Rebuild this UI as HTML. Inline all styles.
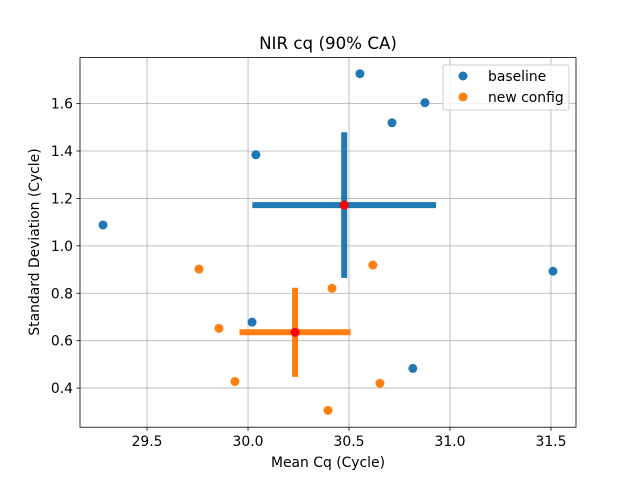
<!DOCTYPE html>
<html><head><meta charset="utf-8"><style>
body{margin:0;background:#fff}
svg text{font-family:"DejaVu Sans","Liberation Sans",sans-serif;fill:#000}
</style></head><body>
<svg id="chart" width="640" height="480" xmlns="http://www.w3.org/2000/svg">
<rect width="640" height="480" fill="#fff"/>
<text x="328" y="49" font-size="16.7" text-anchor="middle">NIR cq (90% CA)</text>
<g id="grid"></g><g id="ticks"></g><g id="marks"></g>
<rect x="80" y="57.6" width="496" height="369.6" fill="none" stroke="#000" stroke-width="0.8"/>
<text x="328" y="467" font-size="13.9" text-anchor="middle">Mean Cq (Cycle)</text>
<text transform="translate(39,242) rotate(-90)" font-size="13.9" text-anchor="middle">Standard Deviation (Cycle)</text>
<g>
<rect x="443" y="65" width="126" height="45" rx="2" fill="#fff" fill-opacity="0.8" stroke="#ccc"/>
<g><circle cx="463" cy="76" r="4.5" fill="#1f77b4"/><text x="488" y="81" font-size="13.9">baseline</text></g>
<g><circle cx="463" cy="97" r="4.5" fill="#ff7f0e"/><text x="488" y="102" font-size="13.9">new config</text></g>
</g>
</svg>
<script>
const xTicks=[29.5,30.0,30.5,31.0,31.5];
const xTickLabels=["29.5","30.0","30.5","31.0","31.5"];
const yTicks=[0.4,0.6,0.8,1.0,1.2,1.4,1.6];
const yTickLabels=["0.4","0.6","0.8","1.0","1.2","1.4","1.6"];
const baselineX=[30.554,30.876,30.713,30.039,29.282,31.510,30.020,30.816];
const baselineY=[1.726,1.604,1.519,1.384,1.088,0.893,0.678,0.483];
const newX=[29.757,30.618,30.416,29.856,29.935,30.653,30.396];
const newY=[0.902,0.919,0.821,0.652,0.428,0.420,0.306];
const baselineErr=[0.455,0.307];
const newErr=[0.275,0.188];
const X0=29.168,X1=31.624,Y0=0.235,Y1=1.794;
const sx=v=>80+(v-X0)/(X1-X0)*496;
const sy=v=>427.2-(v-Y0)/(Y1-Y0)*369.6;
const NS="http://www.w3.org/2000/svg";
function mk(tag,attrs,parent){const e=document.createElementNS(NS,tag);for(const k in attrs)e.setAttribute(k,attrs[k]);document.getElementById(parent).appendChild(e);return e;}
xTicks.forEach((t,i)=>{const x=sx(t);
 let g=mk('line',{x1:x,x2:x,y1:57.6,y2:427.2,stroke:'#b0b0b0','stroke-width':0.8},'grid');
 
 
 mk('line',{x1:x,x2:x,y1:427.2,y2:430.7,stroke:'#000','stroke-width':0.8},'ticks');
 let tx=mk('text',{x:x,y:446,'font-size':13.9,'text-anchor':'middle'},'ticks');tx.textContent=xTickLabels[i];
 
 });
yTicks.forEach((t,i)=>{const y=sy(t);
 let g=mk('line',{x1:80,x2:576,y1:y,y2:y,stroke:'#b0b0b0','stroke-width':0.8},'grid');
 
 
 mk('line',{x1:76.5,x2:80,y1:y,y2:y,stroke:'#000','stroke-width':0.8},'ticks');
 let tx=mk('text',{x:73,y:y+5,'font-size':13.9,'text-anchor':'end'},'ticks');tx.textContent=yTickLabels[i];
 
 });
function series(xs,ys,color,name){
 xs.forEach((v,i)=>{const c=mk('circle',{cx:sx(v),cy:sy(ys[i]),r:4.5,fill:color},'marks');
  
  });
}
function errbar(xs,ys,err,color,name){
 const mx=xs.reduce((a,b)=>a+b,0)/xs.length,my=ys.reduce((a,b)=>a+b,0)/ys.length;
 const h=mk('line',{x1:sx(mx-err[0]),x2:sx(mx+err[0]),y1:sy(my),y2:sy(my),stroke:color,'stroke-width':6},'marks');
 
 
 const v=mk('line',{x1:sx(mx),x2:sx(mx),y1:sy(my-err[1]),y2:sy(my+err[1]),stroke:color,'stroke-width':6},'marks');
 
 
 const d=mk('circle',{cx:sx(mx),cy:sy(my),r:4.5,fill:'#ff0000'},'marks');
 
 
}
series(baselineX,baselineY,'#1f77b4','baseline');
series(newX,newY,'#ff7f0e','new-config');
errbar(baselineX,baselineY,baselineErr,'#1f77b4','baseline');
errbar(newX,newY,newErr,'#ff7f0e','new-config');
</script>
</body></html>
